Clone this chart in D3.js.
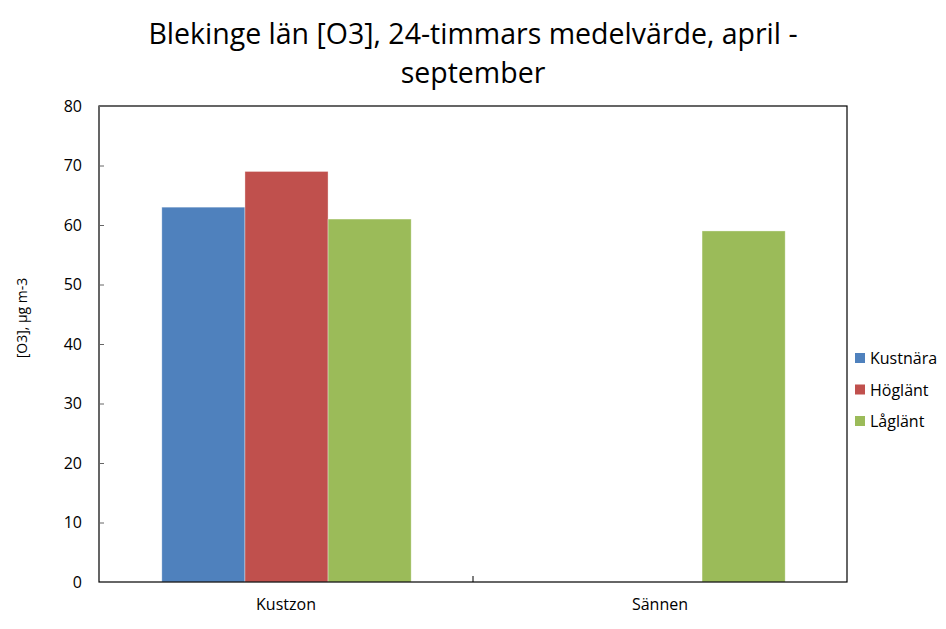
<!DOCTYPE html>
<html><head><meta charset="utf-8">
<script src="https://cdn.jsdelivr.net/npm/d3@7"></script>
<style>body{margin:0;background:#fff}svg{display:block}text{font-family:"Open Sans",sans-serif;fill:#000}</style>
</head><body><svg id="c" width="946" height="629"></svg>
<script>
const categories = ["Kustzon", "Sännen"];
const seriesNames = ["Kustnära", "Höglänt", "Låglänt"];
const kustnara = [63, null];
const hoglant = [69, null];
const laglant = [61, 59];
const seriesValues = [kustnara, hoglant, laglant];
const colors = ["#4F81BD", "#C0504D", "#9BBB59"];
const yTicks = [0, 10, 20, 30, 40, 50, 60, 70, 80];
const titleLines = ["Blekinge län [O3], 24-timmars medelvärde, april -", "september"];
const yLabel = "[O3], µg m-3";

const svg = d3.select("#c");
const L = 99, R = 847, T = 106, B = 582;
const x = d3.scaleBand().domain(categories).range([L, R]).paddingInner(0).paddingOuter(0);
const y = d3.scaleLinear().domain([0, 80]).range([B, T]);
const slot = x.bandwidth() / 4.5;
const xs = d3.scaleBand().domain(seriesNames).range([0.75 * slot, 3.75 * slot]);

// title
svg.append("g").selectAll("text").data(titleLines).join("text")
  .attr("x", 473).attr("y", (d, i) => 44 + i * 39)
  .attr("text-anchor", "middle").style("font-size", "28.5px").text(d => d);

// bars
seriesNames.forEach((s, si) => {
  svg.append("g").selectAll("rect")
    .data(categories.map((c, ci) => ({c, v: seriesValues[si][ci]})).filter(d => d.v != null))
    .join("rect")
    .attr("x", d => x(d.c) + xs(s) + 0.5).attr("width", xs.bandwidth())
    .attr("y", d => y(d.v)).attr("height", d => y(0) - y(d.v))
    .attr("fill", colors[si]).attr("stroke", "#fff").attr("stroke-opacity", 0.5).attr("stroke-width", 0.7);
});

// frame
svg.append("rect").attr("x", L).attr("y", T).attr("width", R - L).attr("height", B - T)
  .attr("fill", "none").attr("stroke", "#000").attr("stroke-width", 1.2);

// y axis
const ya = svg.append("g").attr("transform", `translate(${L},0)`)
  .call(d3.axisLeft(y).tickValues(yTicks).tickSize(-5).tickPadding(17));
ya.select(".domain").remove();
ya.selectAll("line").attr("stroke", "#666");
ya.selectAll("text").style("font-size", "16px").style("font-family", "Open Sans");

// x axis
const xa = svg.append("g").attr("transform", `translate(0,${B})`)
  .call(d3.axisBottom(x).tickSize(0).tickPadding(17));
xa.select(".domain").remove();
xa.selectAll("text").style("font-size", "16px").style("font-family", "Open Sans");
svg.append("g").selectAll("line").data(categories.slice(1)).join("line")
  .attr("x1", d => x(d)).attr("x2", d => x(d)).attr("y1", B).attr("y2", B - 6).attr("stroke", "#000");

// y label
svg.append("text").attr("transform", "translate(27,318) rotate(-90)")
  .attr("text-anchor", "middle").style("font-size", "14px").text(yLabel);

// legend
const lg = svg.append("g").selectAll("g").data(seriesNames).join("g")
  .attr("transform", (d, i) => `translate(855,${358 + i * 31.5})`);
lg.append("rect").attr("x", 0).attr("y", -5).attr("width", 10).attr("height", 10)
  .attr("fill", (d, i) => colors[i]);
lg.append("text").attr("x", 15).attr("y", 6).style("font-size", "16px").text(d => d);
</script></body></html>
